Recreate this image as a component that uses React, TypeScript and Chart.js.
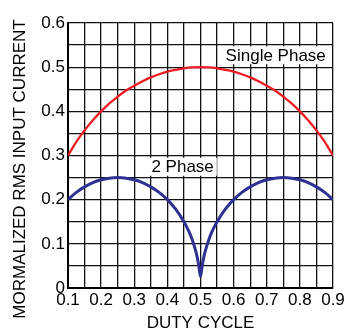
import React, { useEffect, useRef } from "react";
import { Chart, registerables } from "chart.js";

Chart.register(...registerables);

// Duty cycle values (x)
const singleX = [0.1, 0.125, 0.15, 0.175, 0.2, 0.225, 0.25, 0.275, 0.3, 0.325, 0.35, 0.375, 0.4, 0.425, 0.45, 0.475, 0.5,
  0.525, 0.55, 0.575, 0.6, 0.625, 0.65, 0.675, 0.7, 0.725, 0.75, 0.775, 0.8, 0.825, 0.85, 0.875, 0.9];
const singleY = [0.3, 0.331, 0.357, 0.38, 0.4, 0.418, 0.433, 0.447, 0.458, 0.468, 0.477, 0.484, 0.49, 0.494, 0.4975, 0.4994, 0.5,
  0.4994, 0.4975, 0.494, 0.49, 0.484, 0.477, 0.468, 0.458, 0.447, 0.433, 0.418, 0.4, 0.38, 0.357, 0.331, 0.3];

const twoX = [0.1, 0.125, 0.15, 0.175, 0.2, 0.225, 0.25, 0.275, 0.3, 0.325, 0.35, 0.375, 0.4, 0.425, 0.45, 0.465, 0.475, 0.485, 0.49, 0.495, 0.5,
  0.505, 0.51, 0.515, 0.525, 0.535, 0.55, 0.575, 0.6, 0.625, 0.65, 0.675, 0.7, 0.725, 0.75, 0.775, 0.8, 0.825, 0.85, 0.875, 0.9];
const twoY = [0.2, 0.2165, 0.229, 0.2385, 0.245, 0.2487, 0.25, 0.2487, 0.245, 0.2385, 0.229, 0.2165, 0.2, 0.1785, 0.15, 0.128, 0.109, 0.085, 0.07, 0.05, 0.026,
  0.05, 0.07, 0.085, 0.109, 0.128, 0.15, 0.1785, 0.2, 0.2165, 0.229, 0.2385, 0.245, 0.2487, 0.25, 0.2487, 0.245, 0.2385, 0.229, 0.2165, 0.2];

const xTickLabels = ["0.1", "0.2", "0.3", "0.4", "0.5", "0.6", "0.7", "0.8", "0.9"];
const yTickLabels = ["0", "0.1", "0.2", "0.3", "0.4", "0.5", "0.6"];
const xTitle = "DUTY CYCLE";
const yTitle = "MORMALIZED RMS INPUT CURRENT";
const seriesNames = ["Single Phase", "2 Phase"];
// label anchors in data units
const labelX = [0.727, 0.446];
const labelY = [0.527, 0.2745];

const FONT = "Arial, 'Liberation Sans', sans-serif";

export default function App() {
  const ref = useRef<HTMLCanvasElement | null>(null);
  useEffect(() => {
    if (!ref.current) return;
    const textPlugin = {
      id: "texts",
      afterDatasetsDraw(chart: any) {
        const ctx = chart.ctx;
        const xs = chart.scales.x;
        const ys = chart.scales.y;
        ctx.save();
        ctx.font = `17px ${FONT}`;
        ctx.textAlign = "center";
        ctx.textBaseline = "middle";
        seriesNames.forEach((name, i) => {
          const px = xs.getPixelForValue(labelX[i]);
          const py = ys.getPixelForValue(labelY[i]);
          const w = ctx.measureText(name).width + 6;
          ctx.fillStyle = "#ffffff";
          ctx.fillRect(px - w / 2, py - 9, w, 18);
          ctx.fillStyle = "#000000";
          ctx.fillText(name, px, py + 1);
        });
        // axis titles
        const ca = chart.chartArea;
        ctx.fillText(xTitle, (ca.left + ca.right) / 2, 323);
        ctx.translate(20, 169);
        ctx.rotate(-Math.PI / 2);
        ctx.fillText(yTitle, 0, 0);
        ctx.restore();
      },
    };
    const chart = new Chart(ref.current, {
      type: "line",
      data: {
        datasets: [
          {
            label: seriesNames[0],
            data: singleX.map((x, i) => ({ x, y: singleY[i] })),
            borderColor: "#ec1c24",
            borderWidth: 2.3,
            pointRadius: 0,
            cubicInterpolationMode: "monotone",
          },
          {
            label: seriesNames[1],
            data: twoX.map((x, i) => ({ x, y: twoY[i] })),
            borderColor: "#2e3192",
            borderWidth: 3,
            pointRadius: 0,
            cubicInterpolationMode: "monotone",
          },
        ],
      },
      options: {
        responsive: false,
        animation: false,
        layout: { padding: { top: 23, right: 14, left: 0, bottom: 0 } },
        plugins: { legend: { display: false }, tooltip: { enabled: false } },
        scales: {
          x: {
            type: "linear",
            min: 0.1,
            max: 0.9,
            afterBuildTicks: (scale: any) => {
              const t = [];
              for (let i = 0; i <= 16; i++) t.push({ value: 0.1 + i * 0.05 });
              scale.ticks = t;
            },
            afterFit: (scale: any) => {
              scale.height = 47;
            },
            ticks: {
              autoSkip: false,
              maxRotation: 0,
              padding: 2,
              color: "#000",
              font: { family: FONT, size: 17 },
              callback: (_v: any, i: number) => (i % 2 === 0 ? xTickLabels[i / 2] : ""),
            },
            grid: { color: "#111", lineWidth: 1.3, drawTicks: false },
            border: { color: "#000", width: 2 },
          },
          y: {
            min: 0,
            max: 0.6,
            afterBuildTicks: (scale: any) => {
              const t = [];
              for (let i = 0; i <= 12; i++) t.push({ value: i * 0.05 });
              scale.ticks = t;
            },
            afterFit: (scale: any) => {
              scale.width = 68;
            },
            ticks: {
              autoSkip: false,
              padding: 3,
              color: "#000",
              font: { family: FONT, size: 17 },
              callback: (_v: any, i: number) => (i % 2 === 0 ? yTickLabels[i / 2] : ""),
            },
            grid: { color: "#111", lineWidth: 1.3, drawTicks: false },
            border: { color: "#000", width: 2 },
          },
        },
      },
      plugins: [textPlugin],
    } as any);
    return () => chart.destroy();
  }, []);
  return (
    <div style={{ position: "absolute", left: 0, top: 0, width: 347, height: 335, background: "#fff" }}>
      <canvas ref={ref} width={347} height={335} />
    </div>
  );
}
